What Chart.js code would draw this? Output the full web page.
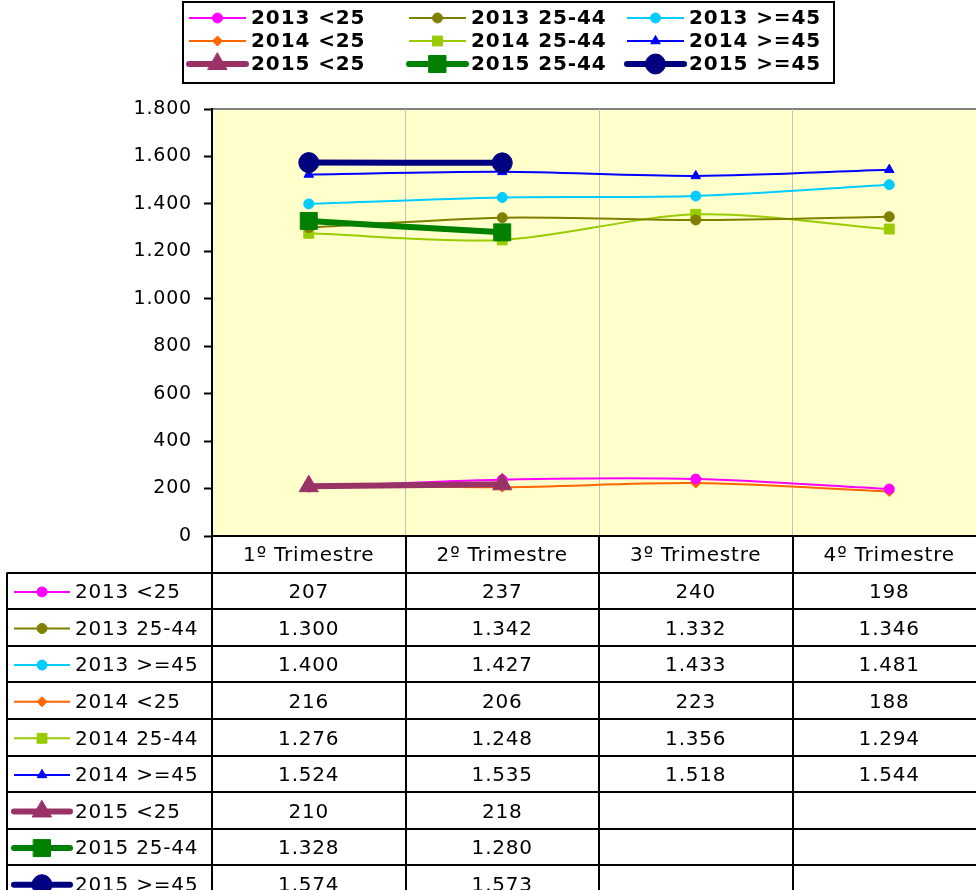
<!DOCTYPE html>
<html><head><meta charset="utf-8">
<script src="https://cdn.jsdelivr.net/npm/chart.js@4.4.1/dist/chart.umd.min.js"></script>
<style>
html,body{margin:0;padding:0;background:#fff;overflow:hidden;}
#wrap{position:relative;width:976px;height:890px;overflow:hidden;background:#fff;}
#c{display:block;}
</style></head><body>
<div id="wrap"><canvas id="c" width="999" height="910" style="width:999px;height:910px"></canvas></div>
<script>
// ---- data ----
const categories = ['1º Trimestre', '2º Trimestre', '3º Trimestre', '4º Trimestre'];
const yTicksMin = 0, yTicksMax = 1800, yTickStep = 200;

const seriesNames = ['2013 <25', '2013 25-44', '2013 >=45', '2014 <25', '2014 25-44', '2014 >=45', '2015 <25', '2015 25-44', '2015 >=45'];
const v2013_lt25  = [207, 237, 240, 198];
const v2013_25_44 = [1300, 1342, 1332, 1346];
const v2013_ge45  = [1400, 1427, 1433, 1481];
const v2014_lt25  = [216, 206, 223, 188];
const v2014_25_44 = [1276, 1248, 1356, 1294];
const v2014_ge45  = [1524, 1535, 1518, 1544];
const v2015_lt25  = [210, 218, null, null];
const v2015_25_44 = [1328, 1280, null, null];
const v2015_ge45  = [1574, 1573, null, null];
const seriesValues = [v2013_lt25, v2013_25_44, v2013_ge45, v2014_lt25, v2014_25_44, v2014_ge45, v2015_lt25, v2015_25_44, v2015_ge45];

// ---- styles ----
const seriesColors = ['#FF00FF', '#808000', '#00CCFF', '#FF6600', '#99CC00', '#0000FF', '#993366', '#008000', '#000080'];
const seriesMarkers = ['circle', 'circle', 'circle', 'rectRot', 'rect', 'triangle', 'triangle', 'rect', 'circle'];
const seriesRadius = [5, 5, 5, 5, 7, 5.5, 11, 12, 10];
const seriesWidth = [2, 2, 2, 2, 2, 2, 6, 6, 6];
const seriesOrder = [1, 1, 1, 1, 1, 1, 0, 0, 0];

const FONT = 'DejaVu Sans';
const fmt = v => (v === null || v === undefined) ? '' : String(v).replace(/\B(?=(\d{3})+(?!\d))/g, '.');

const datasets = seriesNames.map((n, i) => ({
  label: n,
  data: seriesValues[i],
  borderColor: seriesColors[i],
  backgroundColor: seriesColors[i],
  borderWidth: seriesWidth[i],
  pointStyle: seriesMarkers[i],
  pointRadius: seriesRadius[i],
  pointBorderWidth: 1,
  pointBorderColor: seriesColors[i],
  pointBackgroundColor: seriesColors[i],
  tension: 0.3,
  spanGaps: false,
  order: seriesOrder[i],
  fill: false
}));

function drawSample(ctx, i, x1, x2, y) {
  ctx.save();
  ctx.strokeStyle = seriesColors[i];
  ctx.lineWidth = seriesWidth[i];
  ctx.lineCap = seriesWidth[i] > 3 ? 'round' : 'butt';
  ctx.beginPath(); ctx.moveTo(x1, y); ctx.lineTo(x2, y); ctx.stroke();
  ctx.fillStyle = seriesColors[i];
  ctx.strokeStyle = seriesColors[i];
  ctx.lineWidth = 1;
  Chart.helpers.drawPoint(ctx, {pointStyle: seriesMarkers[i], radius: seriesRadius[i], borderWidth: 1, rotation: 0}, (x1 + x2) / 2, y);
  ctx.restore();
}

const bgPlugin = {
  id: 'bg',
  beforeDraw(chart) {
    const {ctx, chartArea: a} = chart;
    ctx.save();
    ctx.fillStyle = '#FFFFCC';
    ctx.fillRect(a.left, a.top, a.right - a.left, a.bottom - a.top);
    ctx.strokeStyle = '#808080';
    ctx.lineWidth = 2;
    ctx.beginPath(); ctx.moveTo(a.left, a.top); ctx.lineTo(a.right, a.top); ctx.lineTo(a.right, a.bottom); ctx.stroke();
    ctx.restore();
    ctx.letterSpacing = '0.8px';
  }
};

const tablePlugin = {
  id: 'dataTable',
  afterDraw(chart) {
    const {ctx, chartArea: a} = chart;
    const xs = chart.scales.x;
    const half = (xs.getPixelForValue(1) - xs.getPixelForValue(0)) / 2;
    const top = a.bottom;
    const rowH = 36.6;
    const n = seriesNames.length;
    const bottom = top + rowH * (n + 1);
    const leftX = 7;
    const rightX = chart.width;
    ctx.save();
    ctx.strokeStyle = '#000';
    ctx.lineWidth = 2;
    for (let r = 0; r <= n; r++) {
      const y = Math.round(top + rowH * (r + 1));
      ctx.beginPath(); ctx.moveTo(leftX, y); ctx.lineTo(rightX, y); ctx.stroke();
    }
    ctx.beginPath(); ctx.moveTo(leftX, top + rowH); ctx.lineTo(leftX, bottom); ctx.stroke();
    for (let c = 0; c <= categories.length; c++) {
      const x = Math.round(xs.getPixelForValue(0) - half + 2 * half * c);
      ctx.beginPath(); ctx.moveTo(x, top); ctx.lineTo(x, bottom); ctx.stroke();
    }
    ctx.font = '20px "' + FONT + '"';
    ctx.letterSpacing = '0.8px';
    ctx.fillStyle = '#000';
    ctx.textBaseline = 'middle';
    for (let r = 0; r < n; r++) {
      const yc = top + rowH * (r + 1) + rowH / 2 + 1;
      drawSample(ctx, r, 14, 70, yc);
      ctx.fillStyle = '#000';
      ctx.textAlign = 'left';
      ctx.fillText(seriesNames[r], 75, yc + 1);
      ctx.textAlign = 'center';
      seriesValues[r].forEach((v, c) => {
        if (v !== null) ctx.fillText(fmt(v), xs.getPixelForValue(c), yc + 1);
      });
    }
    ctx.restore();
  }
};

const legendPlugin = {
  id: 'topLegend',
  afterDraw(chart) {
    const ctx = chart.ctx;
    ctx.save();
    ctx.strokeStyle = '#000';
    ctx.lineWidth = 2;
    ctx.strokeRect(183, 2, 651, 81);
    const colX = [189, 409, 627];
    const rowY = [18, 41, 64];
    ctx.font = 'bold 20px "' + FONT + '"';
    ctx.letterSpacing = '0.9px';
    ctx.textBaseline = 'middle';
    ctx.textAlign = 'left';
    for (let i = 0; i < seriesNames.length; i++) {
      const r = Math.floor(i / 3), c = i % 3;
      drawSample(ctx, i, colX[c], colX[c] + 57, rowY[r]);
      ctx.fillStyle = '#000';
      ctx.fillText(seriesNames[i], colX[c] + 62, rowY[r] + 1);
    }
    ctx.restore();
  }
};

new Chart(document.getElementById('c'), {
  type: 'line',
  data: { labels: categories, datasets },
  options: {
    responsive: false,
    animation: false,
    devicePixelRatio: 1,
    layout: { padding: { top: 109, left: 0, right: 0, bottom: 338 } },
    plugins: { legend: { display: false }, tooltip: { enabled: false } },
    scales: {
      x: {
        type: 'category',
        offset: true,
        grid: { offset: true, color: '#C0C0C0', lineWidth: 1, drawTicks: false },
        border: { display: true, color: '#000', width: 2 },
        ticks: { font: { family: FONT, size: 20 }, color: '#000', padding: 8, maxRotation: 0, autoSkip: false },
        afterFit: s => { s.height = 36; s.paddingLeft = 0; s.paddingRight = 0; }
      },
      y: {
        min: yTicksMin, max: yTicksMax,
        ticks: { stepSize: yTickStep, callback: v => fmt(v), font: { family: FONT, size: 19 }, color: '#000', padding: 12 },
        grid: { drawOnChartArea: false, drawTicks: true, tickLength: 8, tickColor: '#000', tickWidth: 2 },
        border: { color: '#000', width: 2 },
        afterFit: s => { s.width = 212; }
      }
    }
  },
  plugins: [bgPlugin, tablePlugin, legendPlugin]
});
</script>
</body></html>
